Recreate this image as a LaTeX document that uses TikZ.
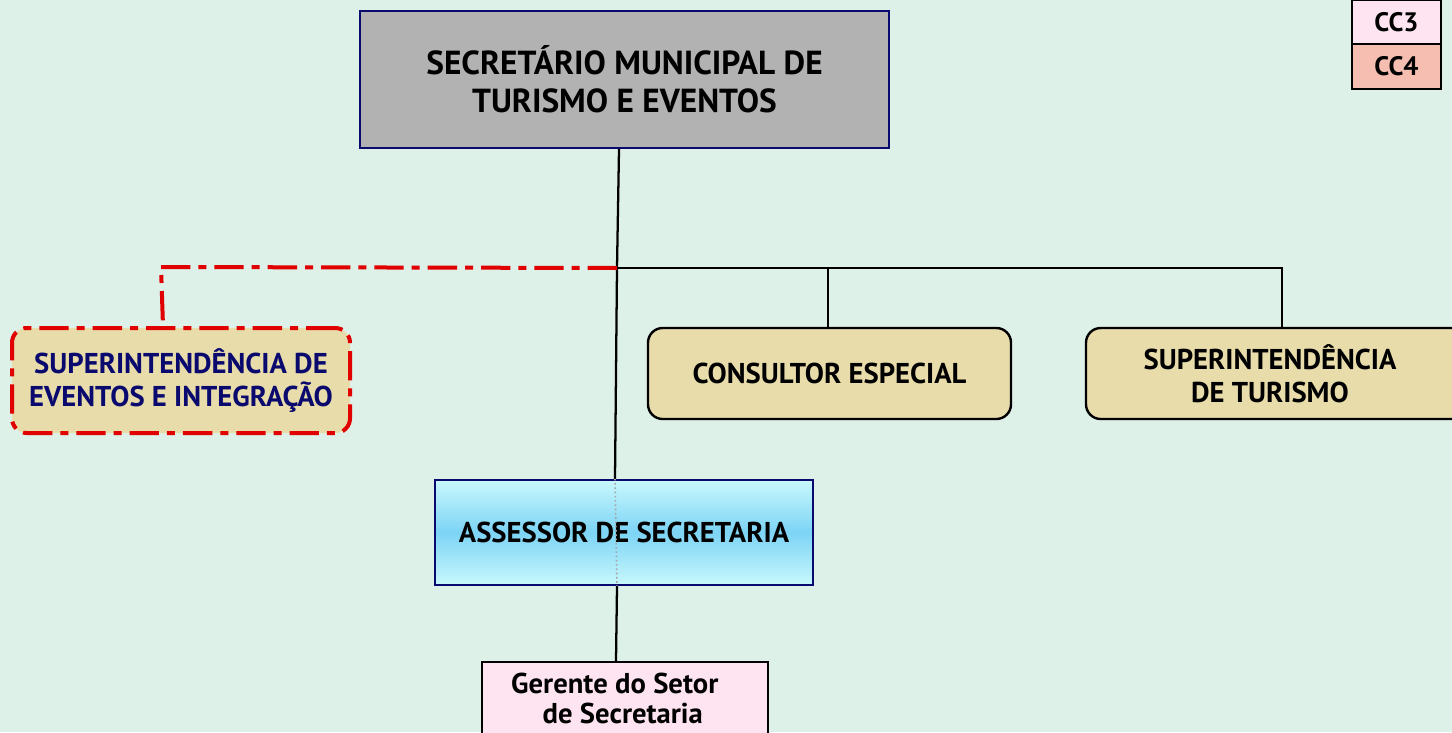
\documentclass[tikz,border=0pt]{standalone}
\usepackage{fontspec}
\setmainfont{PT Sans}
\begin{document}
\begin{tikzpicture}[x=0.75pt,y=-0.75pt,
  box/.style={draw, line width=1.8pt, inner sep=0pt, font=\bfseries\fontsize{21.5}{25}\selectfont, align=center},
  tan/.style={box, fill=tanc, rounded corners=11pt},
  conn/.style={draw=black, line width=1.7pt},
  reddash/.style={line width=3pt, dash pattern=on 22pt off 6pt on 6pt off 6pt},
  redconn/.style={draw=redc, reddash}]
\definecolor{bgc}{RGB}{221,241,232}
\definecolor{tanc}{RGB}{232,220,170}
\definecolor{navy}{RGB}{10,10,110}
\definecolor{redc}{RGB}{225,0,0}
\definecolor{pinkc}{RGB}{253,228,240}
\definecolor{salmon}{RGB}{245,190,176}
\definecolor{cyo}{RGB}{200,248,252}
\definecolor{cyi}{RGB}{125,212,245}
\fill[bgc] (0,0) rectangle (1452,732);
\useasboundingbox (0,0) rectangle (1452,732);
% top box
\node[box, draw=navy, fill=black!30, minimum width=529*0.75pt, minimum height=137*0.75pt, font=\bfseries\fontsize{25}{28.5}\selectfont] (sec) at (624.5,79.5) {SECRETÁRIO MUNICIPAL DE\\TURISMO E EVENTOS};
% legend
\node[box, draw=black, fill=pinkc, minimum width=89*0.75pt, minimum height=44*0.75pt, font=\bfseries\fontsize{20}{22}\selectfont] (cc3) at (1396.5,22) {CC3};
\node[box, draw=black, fill=salmon, minimum width=89*0.75pt, minimum height=45*0.75pt, font=\bfseries\fontsize{20}{22}\selectfont] (cc4) at (1396.5,66.5) {CC4};
% second level
\node[tan, draw=redc, reddash, text=navy, minimum width=338*0.75pt, minimum height=105*0.75pt] (sev) at (181,380.5) {SUPERINTENDÊNCIA DE\\EVENTOS E INTEGRAÇÃO};
\node[tan, minimum width=363*0.75pt, minimum height=91*0.75pt] (cons) at (829.5,373.5) {CONSULTOR ESPECIAL};
\node[tan, minimum width=380*0.75pt, minimum height=91*0.75pt] (stur) at (1276,373.5) {};
\node[box, draw=none] (sturt) at (1270,374) {SUPERINTENDÊNCIA\\DE TURISMO};
% assessor
\node[box, draw=navy, top color=cyo, bottom color=cyo, middle color=cyi, minimum width=378*0.75pt, minimum height=105*0.75pt] (ass) at (624,532.5) {ASSESSOR DE SECRETARIA};
\node[box, draw=black, fill=pinkc, minimum width=286*0.75pt, minimum height=100*0.75pt, anchor=north] (ger) at (625,661) {};
\node[box, draw=none, align=left, anchor=west, font=\bfseries\fontsize{21.5}{22.5}\selectfont] (gert) at (510,698) {Gerente do Setor\\\hspace{1.1em}de Secretaria};
% connectors
\coordinate (j) at (617,268);
\coordinate (jl) at (161,267);
\coordinate (jr) at (1282,268);
\coordinate (jc) at (828,268);
\draw[conn] (sec.south -| 619,0) -- (j) -- (ass.north -| 615,0);
\draw[conn] (j) -- (jr) -- (stur.north -| jr);
\draw[conn] (jc) -- (cons.north -| jc);
\draw[redconn] (j) -- (jl) -- (sev.north -| 163,0);
\draw[gray!70, line width=1.2pt, dotted] (ass.north -| 615,0) -- (ass.south -| 617,0);
\draw[conn] (ass.south -| 617,0) -- (ger.north -| 616,0);
\end{tikzpicture}
\end{document}
